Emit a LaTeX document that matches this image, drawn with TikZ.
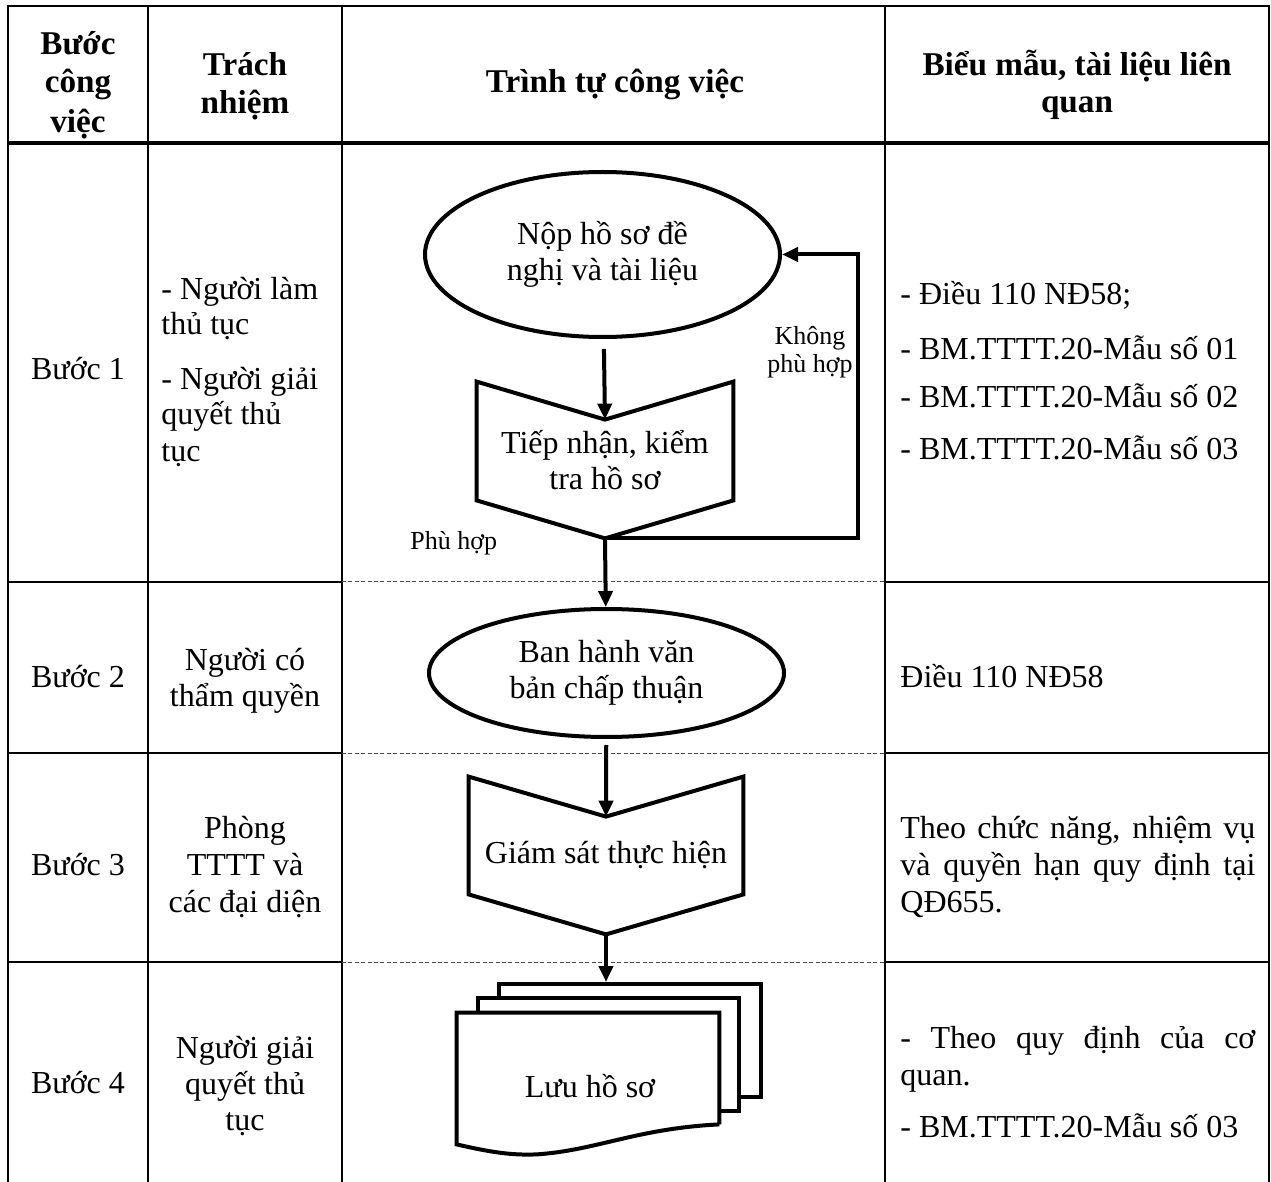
\documentclass[tikz,border=0pt]{standalone}
\usepackage{fontspec}
\setmainfont{Liberation Serif}
\usetikzlibrary{shapes.geometric,arrows.meta,calc}

\newcommand\bodysize{\fontsize{16}{18}\selectfont}
\newcommand\headsize{\fontsize{16.6}{18}\selectfont}
\newcommand\notesize{\fontsize{13}{14}\selectfont}
\newcommand\justline[1]{\makebox[177.5pt][s]{#1}}

\begin{document}
\begin{tikzpicture}[
    x=0.5pt, y=-0.5pt,
    grid/.style={line width=1.4pt},
    lane/.style={line width=0.5pt, dash pattern=on 2pt off 1.2pt, black!70},
    txt/.style={font=\bodysize, inner sep=0pt, anchor=base},
    txtl/.style={txt, anchor=base west},
    head/.style={txt, font=\headsize\bfseries},
    note/.style={font=\notesize, inner sep=0pt, anchor=base},
    term/.style={draw, ellipse, line width=2pt, minimum width=177.5pt, inner sep=0pt, align=center, font=\bodysize},
    offpage/.style={minimum height=78pt, inner sep=0pt, align=center, font=\bodysize},
    page/.style={draw, fill=white, line width=2pt, minimum width=131pt, minimum height=56.5pt, inner sep=0pt},
    flow/.style={line width=2pt, -{Triangle[length=8pt,width=7pt]}},
  ]
  \useasboundingbox (0,0) rectangle (1271,1182);

  % table grid
  \draw[grid] (8,1182) |- (1269,6) -- (1269,1182);
  \foreach \xx in {148,342,885}
    \draw[grid] (\xx,6) -- (\xx,1182);
  \draw[grid, line width=1.8pt] (8,143) -- (1269,143);
  \foreach \yy in {582,753,962} {
    \draw[grid] (8,\yy) -- (342,\yy);
    \draw[grid] (885,\yy) -- (1269,\yy);
    \draw[lane] (342,\yy) -- (885,\yy);
  }

  % header
  \foreach \yy/\txt [count=\i] in {55/Bước,93/công,133/việc}
    \node[head] (step-\i) at (78,\yy) {\txt};
  \foreach \yy/\txt [count=\i] in {76/Trách,114/nhiệm}
    \node[head] (resp-\i) at (245,\yy) {\txt};
  \node[head] (seq) at (615,93) {Trình tự công việc};
  \foreach \yy/\txt [count=\i] in {76/{Biểu mẫu, tài liệu liên},113/quan}
    \node[head] (form-\i) at (1077,\yy) {\txt};

  % step column
  \foreach \yy/\n in {380/1,688/2,875/3,1093/4}
    \node[txt] (buoc-\n) at (78,\yy) {Bước \n};

  % responsibility column
  \foreach \yy/\txt [count=\i] in {300/- Người làm,335/thủ tục,390/- Người giải,425/quyết thủ,462/tục}
    \node[txtl] (r1-resp-\i) at (161,\yy) {\txt};
  \foreach \yy/\txt [count=\i] in {670/Người có,706/thẩm quyền}
    \node[txt] (r2-resp-\i) at (245,\yy) {\txt};
  \foreach \yy/\txt [count=\i] in {838/Phòng,875/TTTT và,912/các đại diện}
    \node[txt] (r3-resp-\i) at (245,\yy) {\txt};
  \foreach \yy/\txt [count=\i] in {1058/Người giải,1094/quyết thủ,1130/tục}
    \node[txt] (r4-resp-\i) at (245,\yy) {\txt};

  % forms column
  \foreach \yy/\txt [count=\i] in {305/{- Điều 110 NĐ58;},360/- BM.TTTT.20-Mẫu số 01,408/- BM.TTTT.20-Mẫu số 02,460/- BM.TTTT.20-Mẫu số 03}
    \node[txtl] (r1-form-\i) at (900,\yy) {\txt};
  \node[txtl] (r2-form) at (900,688) {Điều 110 NĐ58};
  \foreach \yy/\txt [count=\i] in {838/{\justline{Theo chức năng, nhiệm vụ}},875/{\justline{và quyền hạn quy định tại}},912/QĐ655.}
    \node[txtl] (r3-form-\i) at (900,\yy) {\txt};
  \foreach \yy/\txt [count=\i] in {1048/{\justline{- Theo quy định của cơ}},1085/quan.,1137/- BM.TTTT.20-Mẫu số 03}
    \node[txtl] (r4-form-\i) at (900,\yy) {\txt};

  % flow chart
  \node[term, minimum height=82.5pt] (nop) at (602.5,254.5) {Nộp hồ sơ đề\\nghị và tài liệu};
  \node[offpage, minimum width=128pt] (tiep) at (605,460) {Tiếp nhận, kiểm\\tra hồ sơ};
  \node[term, minimum height=64pt] (ban) at (606.5,673) {Ban hành văn\\bản chấp thuận};
  \node[offpage, minimum width=137pt, minimum height=78.5pt] (giamsat) at (606,855.5) {Giám sát thực hiện};
  \foreach \n/\d in {tiep/19pt,giamsat/20pt}
    \draw[line width=2pt] (\n.north west) -- ([yshift=-\d]\n.north) coordinate (\n-in)
      -- (\n.north east) -- ([yshift=\d]\n.south east) -- (\n.south)
      -- ([yshift=\d]\n.south west) -- cycle;

  % stacked documents
  \node[page] (luu-back) at (630,1040.5) {};
  \node[page, minimum width=130.5pt] (luu-mid) at (608.5,1054.5) {};
  \node[minimum width=131pt, minimum height=55.5pt, inner sep=0pt] (luu) at (588,1068.5) {};
  \draw[line width=2pt, fill=white] (luu.south east) -- (luu.north east) -- (luu.north west)
    -- ($(luu.south west)+(0,20)$)
    .. controls ($(luu.south west)+(35,28)$) and ($(luu.south west)+(55,31)$) .. ($(luu.south west)+(80,30)$)
    .. controls ($(luu.south west)+(140,26)$) and ($(luu.south west)+(180,4)$) .. (luu.south east);
  \node[txt] (luu-label) at (590,1097) {Lưu hồ sơ};

  % connectors
  \draw[flow, shorten <=5pt] (nop) -- (tiep-in);
  \draw[flow] (tiep.south) -- (ban);
  \draw[flow, shorten <=3pt] (ban) -- (giamsat-in);
  \draw[flow] (giamsat.south) -- (giamsat.south |- luu-back.north);
  \draw[flow] (tiep.south) -- ++(253,0) |- (nop.east);

  % branch labels
  \node[note] (nofit-1) at (810,345) {Không};
  \node[note] (nofit-2) at (810,373) {phù hợp};
  \node[note, anchor=base west] (fit) at (410,550) {Phù hợp};
\end{tikzpicture}
\end{document}
